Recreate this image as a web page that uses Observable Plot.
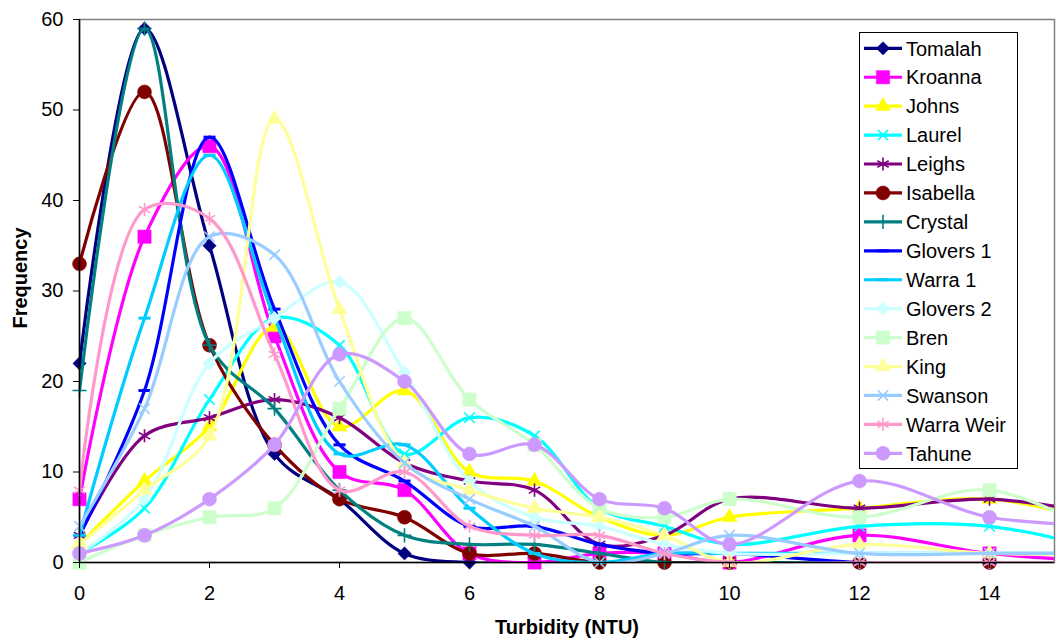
<!DOCTYPE html>
<html>
<head>
<meta charset="utf-8">
<script src="https://cdn.jsdelivr.net/npm/d3@7"></script>
<script src="https://cdn.jsdelivr.net/npm/@observablehq/plot@0.6"></script>
<style>
  body { margin: 0; background: #fff; }
  #chart { position: relative; width: 1056px; height: 644px; font-family: "Liberation Sans", Arial, sans-serif; }
</style>
</head>
<body>
<div id="chart"></div>
<script>
// Turbidity bins (NTU) and the frequency counted at each site
const turbidity = [0, 1, 2, 3, 4, 5, 6, 7, 8, 9, 10, 12, 14, 16];

const tomalah   = [22, 59, 35, 12,  7,  1,  0,  0, 0, 0, 0, 0, 0, 0];
const kroanna   = [ 7, 36, 46, 25, 10,  8,  1,  0, 1, 1, 0, 3, 1, 0];
const johns     = [ 2,  9, 15, 26, 15, 19, 10,  9, 5, 3, 5, 6, 7, 4];
const laurel    = [ 1,  6, 18, 27, 24, 12, 16, 14, 6, 4, 2, 4, 4, 1];
const leighs    = [ 3, 14, 16, 18, 16, 11,  9,  8, 2, 3, 7, 6, 7, 5];
const isabella  = [33, 52, 24, 13,  7,  5,  1,  1, 0, 0, 0, 0, 0, 0];
const crystal   = [19, 59, 24, 17,  8,  3,  2,  2, 1, 0, 0, 0, 0, 0];
const glovers1  = [ 3, 19, 47, 28, 13,  9,  4,  4, 2, 1, 1, 0, 0, 0];
const warra1    = [ 3, 27, 45, 27, 12, 13,  6,  1, 0, 1, 1, 1, 1, 1];
const glovers2  = [ 1,  7, 22, 27, 31, 21,  9,  5, 4, 2, 1, 1, 1, 1];
const bren      = [ 0,  3,  5,  6, 17, 27, 18, 13, 6, 5, 7, 5, 8, 2];
const king      = [ 2,  8, 14, 49, 28, 11,  8,  6, 5, 3, 0, 2, 1, 1];
const swanson   = [ 4, 17, 36, 34, 20, 11,  7,  4, 0, 1, 3, 1, 1, 1];
const warraWeir = [ 8, 39, 38, 23,  8, 10,  4,  3, 3, 1, 0, 0, 0, 0];
const tahune    = [ 1,  3,  7, 13, 23, 20, 12, 13, 7, 6, 2, 9, 5, 4];

const siteNames = ["Tomalah", "Kroanna", "Johns", "Laurel", "Leighs", "Isabella", "Crystal",
  "Glovers 1", "Warra 1", "Glovers 2", "Bren", "King", "Swanson", "Warra Weir", "Tahune"];
const siteValues = [tomalah, kroanna, johns, laurel, leighs, isabella, crystal,
  glovers1, warra1, glovers2, bren, king, swanson, warraWeir, tahune];

const xTicks = [0, 2, 4, 6, 8, 10, 12, 14];
const yTicks = [0, 10, 20, 30, 40, 50, 60];

// Styling for each site: colour, marker shape
const siteColors = ["#000080", "#FF00FF", "#FFFF00", "#00FFFF", "#800080", "#800000", "#008080",
  "#0000FF", "#00CCFF", "#CCFFFF", "#CCFFCC", "#FFFF99", "#99CCFF", "#FF99CC", "#CC99FF"];

// short horizontal bar marker
const dash = {
  draw(context, size) {
    const w = Math.sqrt(size) * 0.62;
    context.moveTo(-w, 0);
    context.lineTo(w, 0);
  }
};
const markers = {
  diamond:  {type: d3.symbolDiamond2, r: 6.0, filled: true},
  square:   {type: d3.symbolSquare,   r: 7.5, filled: true},
  triangle: {type: d3.symbolTriangle, r: 5.6, filled: true},
  times:    {type: d3.symbolTimes,    r: 4.8, filled: false, sw: 1.6},
  asterisk: {type: d3.symbolAsterisk, r: 6.2, filled: false, sw: 1.6},
  circle:   {type: d3.symbolCircle,   r: 7.0, filled: true},
  plus:     {type: d3.symbolPlus,     r: 4.6, filled: false, sw: 1.6},
  dash:     {type: dash,              r: 5.5, filled: false, sw: 3}
};
const siteMarkers = ["diamond", "square", "triangle", "times", "asterisk", "circle", "plus",
  "dash", "dash", "diamond", "square", "triangle", "times", "asterisk", "circle"];

const rows = siteNames.flatMap((name, i) =>
  turbidity.map((t, j) => ({site: name, idx: i, turbidity: t, frequency: siteValues[i][j]})));

const seriesMarks = siteNames.flatMap((name, i) => {
  const data = rows.filter(d => d.idx === i);
  const m = markers[siteMarkers[i]];
  return [
    Plot.line(data, {x: "turbidity", y: "frequency", stroke: siteColors[i], strokeWidth: 3.2,
      curve: "catmull-rom", clip: true}),
    Plot.dot(data.filter(d => d.turbidity <= 15), {x: "turbidity", y: "frequency",
      symbol: m.type, r: m.r,
      fill: m.filled ? siteColors[i] : "none",
      stroke: siteColors[i], strokeWidth: m.filled ? 0.5 : m.sw})
  ];
});

const chart = Plot.plot({
  width: 1056,
  height: 644,
  marginLeft: 79,
  marginRight: 2,
  marginTop: 19,
  marginBottom: 82,
  style: {fontFamily: '"Liberation Sans", Arial, sans-serif', fontSize: "20px", color: "#000", background: "#fff"},
  x: {domain: [0, 15]},
  y: {domain: [0, 60]},
  marks: [
    Plot.frame({stroke: "#808080", strokeWidth: 1.5}),
    ...seriesMarks,
    Plot.ruleX([0], {stroke: "#000", strokeWidth: 1.5}),
    Plot.ruleY([0], {stroke: "#000", strokeWidth: 1.5}),
    Plot.axisY({ticks: yTicks, tickSize: 6, tickPadding: 10, label: null, tickFormat: d => d, stroke: "#000"}),
    Plot.axisX({ticks: xTicks, tickSize: 6, tickPadding: 17, label: null, tickFormat: d => d, stroke: "#000"})
  ]
});

document.getElementById("chart").appendChild(chart);

// Axis titles and the legend box
const svg = d3.select(chart);
svg.append("text")
  .attr("transform", "translate(27,278) rotate(-90)")
  .attr("text-anchor", "middle")
  .attr("font-weight", "bold")
  .attr("font-size", 20)
  .attr("fill", "#000")
  .text("Frequency");
svg.append("text")
  .attr("x", 567)
  .attr("y", 634)
  .attr("text-anchor", "middle")
  .attr("font-weight", "bold")
  .attr("font-size", 20)
  .attr("fill", "#000")
  .text("Turbidity (NTU)");

const legend = svg.append("g").attr("text-anchor", "start");
legend.append("rect")
  .attr("x", 859.5).attr("y", 32.5).attr("width", 158).attr("height", 436)
  .attr("fill", "#fff").attr("stroke", "#000").attr("stroke-width", 1);
siteNames.forEach((name, i) => {
  const y = 48.3 + i * 28.93;
  const m = markers[siteMarkers[i]];
  const g = legend.append("g");
  g.append("line").attr("x1", 864).attr("x2", 902).attr("y1", y).attr("y2", y)
    .attr("stroke", siteColors[i]).attr("stroke-width", 3.2);
  g.append("path")
    .attr("transform", `translate(883,${y})`)
    .attr("d", d3.symbol(m.type, Math.PI * m.r * m.r)())
    .attr("fill", m.filled ? siteColors[i] : "none")
    .attr("stroke", siteColors[i])
    .attr("stroke-width", m.filled ? 0.5 : m.sw);
  g.append("text").attr("x", 906).attr("y", y).attr("dy", "0.36em")
    .attr("text-anchor", "start")
    .attr("font-size", 20).attr("fill", "#000").text(name);
});
</script>
</body>
</html>
